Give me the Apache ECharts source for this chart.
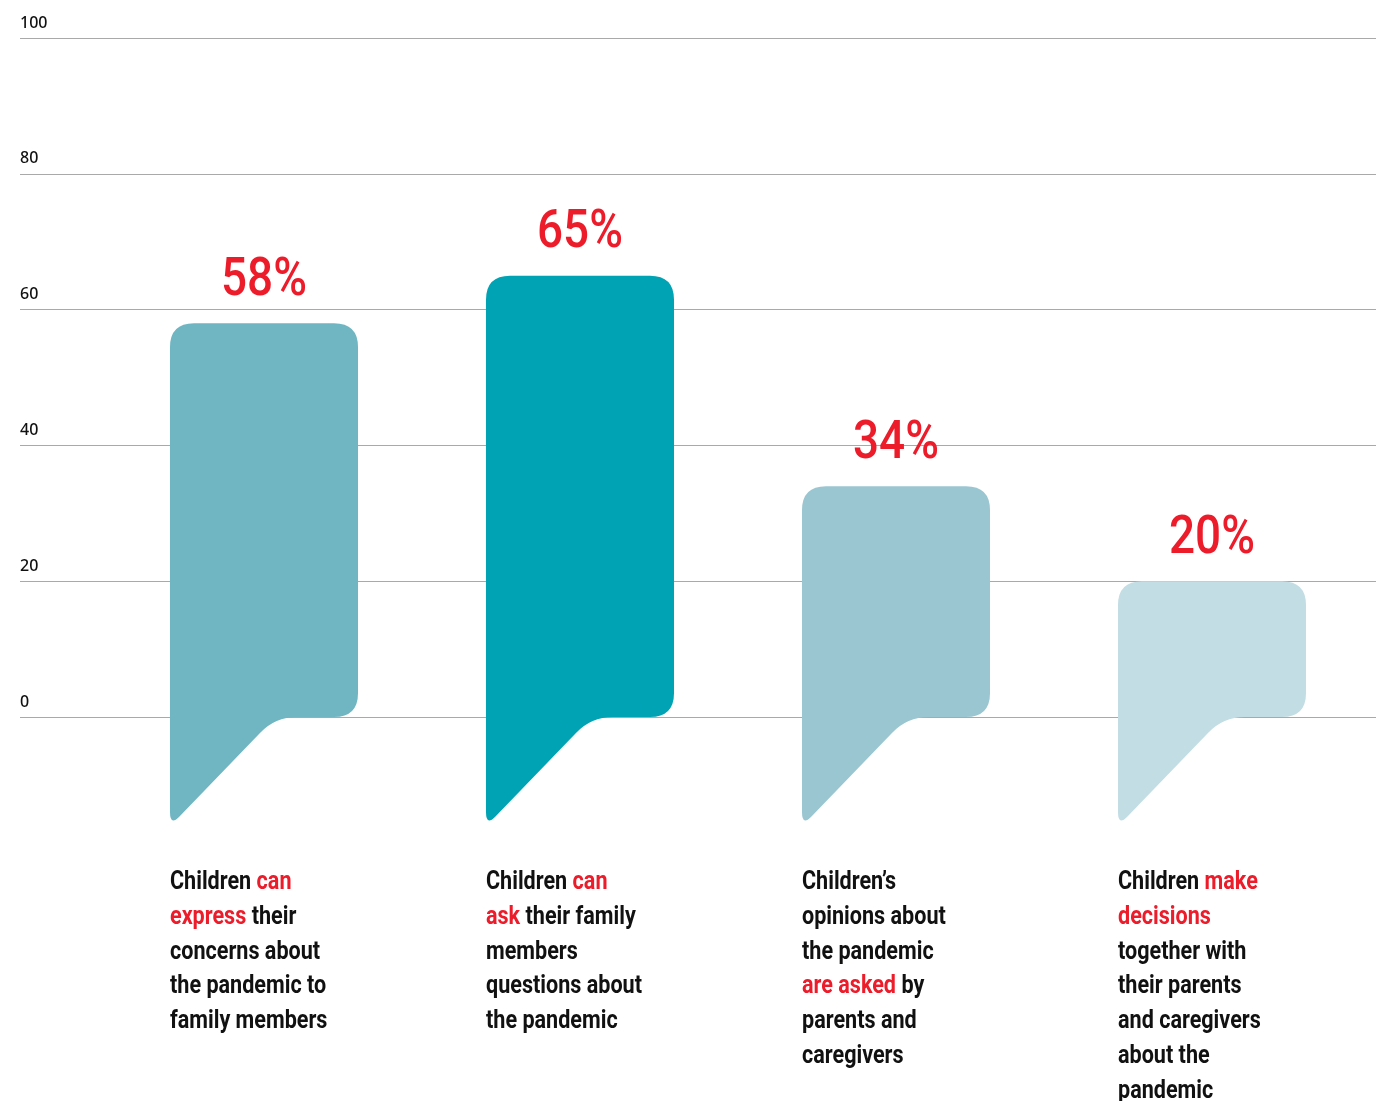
<!DOCTYPE html>
<html>
<head>
<meta charset="utf-8">
<script src="https://cdn.jsdelivr.net/npm/echarts@6/dist/echarts.min.js"></script>
<style>
  html, body { margin: 0; padding: 0; background: #fff; }
  #chart { width: 1376px; height: 1101px; }
</style>
</head>
<body>
<div id="chart"></div>
<script>
// ---- data ----
const categories = [
  'Children {r|can}\n{r|express} their\nconcerns about\nthe pandemic to\nfamily members',
  'Children {r|can}\n{r|ask} their family\nmembers\nquestions about\nthe pandemic',
  'Children\u2019s\nopinions about\nthe pandemic\n{r|are asked} by\nparents and\ncaregivers',
  'Children {r|make}\n{r|decisions}\ntogether with\ntheir parents\nand caregivers\nabout the\npandemic'
];
const values = [58, 65, 34, 20];
const valueLabels = ['58%', '65%', '34%', '20%'];
const barColors = ['#6fb6c2', '#00a3b4', '#9ac6d1', '#c2dde4'];
const yMin = 0, yMax = 100, yStep = 20;

const RED = '#ec1c2a';
const FONT = "Roboto, 'Noto Sans', sans-serif";

function renderItem(params, api) {
  const i = api.value(0);
  const v = api.value(1);
  const top = api.coord([i, v]);
  const base = api.coord([i, 0]);
  const bw = api.size([1, 0])[0] * 0.595;
  const L = top[0] - bw / 2, R = top[0] + bw / 2, T = top[1], B = base[1];
  const r = 24;
  const d = [
    'M', L, T + r,
    'Q', L, T, L + r, T,
    'L', R - r, T,
    'Q', R, T, R, T + r,
    'L', R, B - r,
    'Q', R, B, R - r, B,
    'L', L + 127, B,
    'Q', L + 105, B, L + 90, B + 16,
    'L', L + 9, B + 100,
    'Q', L, B + 109, L, B + 95,
    'Z'
  ].join(' ');
  return {
    type: 'group',
    children: [
      {
        type: 'path',
        shape: { pathData: d },
        style: { fill: barColors[params.dataIndex] }
      },
      {
        type: 'text',
        x: top[0],
        y: T - 15,
        scaleX: 0.85,
        style: {
          text: valueLabels[params.dataIndex],
          fill: RED,
          font: "500 54px " + FONT,
          align: 'center',
          verticalAlign: 'bottom'
        }
      },
      {
        type: 'text',
        x: L,
        y: B + 148,
        scaleX: 0.83,
        style: {
          text: categories[params.dataIndex],
          fill: '#111',
          font: "bold 26px " + FONT,
          lineHeight: 34.8,
          align: 'left',
          verticalAlign: 'top',
          rich: {
            r: { fill: RED, font: "bold 26px " + FONT, lineHeight: 34.8 }
          }
        }
      }
    ]
  };
}

const chart = echarts.init(document.getElementById('chart'), null, { renderer: 'canvas' });
chart.setOption({
  animation: false,
  backgroundColor: '#fff',
  grid: [
    { left: 20, right: 0, top: 38, bottom: 384 },
    { left: 106, right: 6, top: 38, bottom: 384 }
  ],
  xAxis: [
    { type: 'category', gridIndex: 0, data: categories.map((c, i) => i), show: false },
    { type: 'category', gridIndex: 1, data: categories.map((c, i) => i), show: false }
  ],
  yAxis: [
    {
      type: 'value', gridIndex: 0, min: yMin, max: yMax, interval: yStep,
      axisLine: { show: false }, axisTick: { show: false },
      splitLine: { lineStyle: { color: '#a9a9a9', width: 1 } },
      axisLabel: {
        inside: true, margin: 0, align: 'left', verticalAlign: 'bottom',
        padding: [0, 0, 7, 0], color: '#111', fontSize: 16,
        fontFamily: "'Noto Sans', sans-serif", fontWeight: 500
      }
    },
    { type: 'value', gridIndex: 1, min: yMin, max: yMax, show: false }
  ],
  series: [{
    type: 'custom',
    xAxisIndex: 1,
    yAxisIndex: 1,
    clip: false,
    renderItem: renderItem,
    data: values.map((v, i) => [i, v])
  }]
});
</script>
</body>
</html>
